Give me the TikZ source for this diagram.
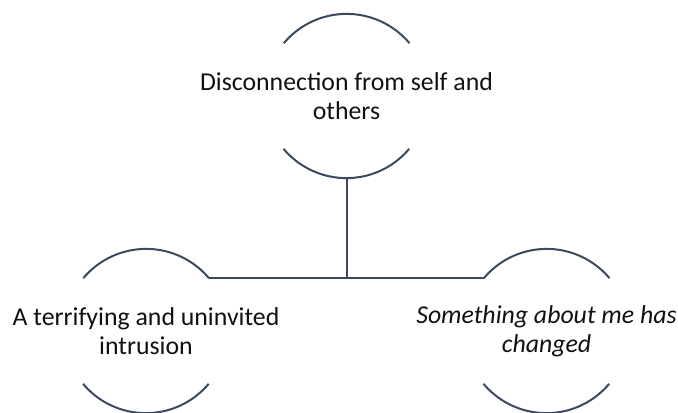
\documentclass[tikz,border=0pt]{standalone}
\usepackage{fontspec}
\setmainfont{Carlito}
\definecolor{arcline}{HTML}{3B4A5E}
\definecolor{labeltext}{HTML}{111111}
\begin{document}
\begin{tikzpicture}[x=1bp,y=-1bp,
  ring/.style={circle,draw=none,minimum size=164bp,inner sep=0pt},
  lbl/.style={align=center,text=labeltext,inner sep=0pt,
    font=\fontsize{25.8bp}{28.5bp}\selectfont},
  arcpen/.style={draw=arcline,line width=2bp},
  link/.style={draw=arcline,line width=2bp}]
\useasboundingbox (0,0) rectangle (678,412);

% invisible circles carrying the node positions
\node[ring] (top)   at (346.5,96) {};
\node[ring] (left)  at (146,331)  {};
\node[ring] (right) at (546.5,331) {};

% upper and lower arcs of each circle
\foreach \n in {top,left,right}{
  \draw[arcpen] (\n.40) arc[start angle=40,end angle=140,radius=82bp];
  \draw[arcpen] (\n.220) arc[start angle=220,end angle=320,radius=82bp];
}

% labels
\node[lbl] (topText)   at (top)   {Disconnection from self and\\others};
\node[lbl] (leftText)  at (left)  {A terrifying and uninvited\\intrusion};
\node[lbl] (rightText) at (right) {\itshape Something about me has\\\itshape changed};

% hierarchy connectors
\draw[link] (top.south) -- (top.south |- left.40);
\draw[link] (left.40) -- (right.140);
\end{tikzpicture}
\end{document}
